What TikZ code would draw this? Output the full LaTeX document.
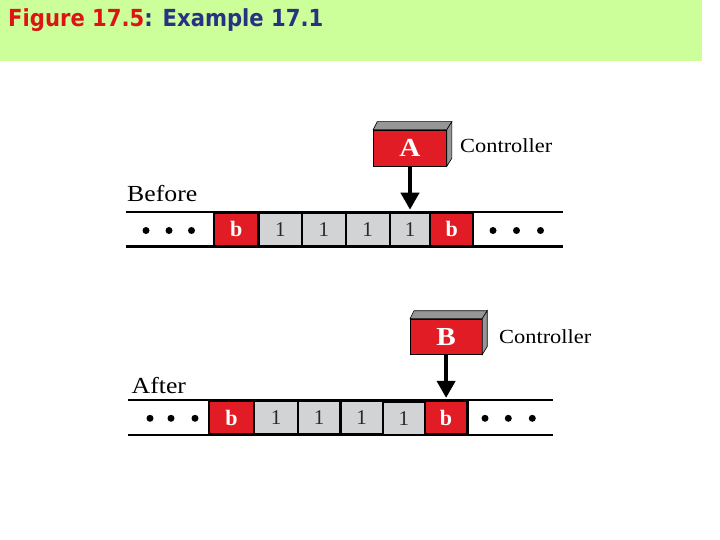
\documentclass[tikz,border=0pt]{standalone}
\usepackage{fontspec}
\setmainfont{Liberation Serif}
\newfontfamily\titlefont{DejaVu Sans}
\usetikzlibrary{arrows.meta,calc}
\definecolor{band}{RGB}{204,255,153}
\definecolor{tred}{RGB}{226,28,36}
\definecolor{tgray}{RGB}{209,211,212}
\definecolor{ttitle}{RGB}{220,20,20}
\definecolor{tblue}{RGB}{40,50,130}
\definecolor{tdark}{RGB}{40,40,40}
\definecolor{facegray}{RGB}{150,150,150}
\tikzset{
  redcell/.style={draw=black,line width=2.2pt,fill=tred,inner sep=0pt,minimum height=33pt,
    font=\fontsize{22}{22}\selectfont\bfseries,text=white},
  graycell/.style={draw=black,line width=2.2pt,fill=tgray,inner sep=0pt,minimum height=33pt,
    font=\fontsize{21}{21}\selectfont,text=tdark},
  tapeline/.style={line width=2.5pt,black},
  tdot/.style={circle,fill=black,inner sep=0pt,minimum size=7pt},
  ctrl/.style={draw=black,line width=0.6pt,fill=tred,inner sep=0pt,
    font=\fontsize{26}{26}\selectfont\bfseries,text=white},
  face/.style={draw=black,line width=0.6pt,fill=facegray},
  lbl/.style={inner sep=0pt,anchor=base west,font=\fontsize{20}{20}\selectfont},
  biglbl/.style={inner sep=0pt,anchor=base west,font=\fontsize{23}{23}\selectfont},
  arr/.style={line width=4pt,-{Triangle[width=18pt,length=17pt]}}
}
\newcommand{\hs}[1]{\scalebox{1.12}[1]{#1}}
\begin{document}
\begin{tikzpicture}[x=1pt,y=-1pt]
\useasboundingbox (0,0) rectangle (720,540);
\fill[band] (0,0) rectangle (702,61);
\node[inner sep=0pt,anchor=base west,font=\titlefont\fontsize{23.5}{23.5}\selectfont\bfseries] (title) at (8,26.5)
  {\scalebox{0.9}[1]{\textcolor{ttitle}{Figure 17.5}\textcolor{tblue}{: Example 17.1}}};

% ---------- Before ----------
\draw[tapeline] (126,212) -- (563,212);
\draw[tapeline] (126,246.5) -- (563,246.5);
\node[biglbl] (before) at (127,202) {\hs{Before}};
\node[tdot] (d1) at (146,230.5) {};
\node[tdot] (d2) at (169,230.5) {};
\node[tdot] (d3) at (191.5,230.5) {};
\node[tdot] (d4) at (493,230.5) {};
\node[tdot] (d5) at (516.5,230.5) {};
\node[tdot] (d6) at (540.5,230.5) {};
\node[redcell,minimum width=44.5pt] (pb1) at (236.25,229.3) {b};
\node[graycell,minimum width=43.5pt] (pc1) at (280.25,229.3) {1};
\node[graycell,minimum width=43.7pt] (pc2) at (323.85,229.3) {1};
\node[graycell,minimum width=44pt] (pc3) at (367.7,229.3) {1};
\node[graycell,minimum width=40.6pt] (pc4) at (410,229.3) {1};
\node[redcell,minimum width=42.7pt] (pb2) at (451.65,229.3) {b};
\node[ctrl,minimum width=73pt,minimum height=36pt] (ca) at (410,148) {\hs{A}};
\draw[face] (ca.north west) -- ++(4,-8) -- ($(ca.north east)+(5,-8)$) -- (ca.north east) -- cycle;
\draw[face] (ca.north east) -- ++(5,-8) -- ($(ca.south east)+(5,-8)$) -- (ca.south east) -- cycle;
\node[lbl] (ctla) at (460,153) {\hs{Controller}};
\draw[arr] (ca.south) -- ($(pc4.north)+(0,-2)$);

% ---------- After ----------
\draw[tapeline] (128,400) -- (553,400);
\draw[tapeline] (128,435) -- (553,435);
\node[biglbl] (after) at (131.5,393) {\hs{After}};
\node[tdot] (e1) at (150,418.3) {};
\node[tdot] (e2) at (171,418.3) {};
\node[tdot] (e3) at (195,418.3) {};
\node[tdot] (e4) at (485,418.3) {};
\node[tdot] (e5) at (508.3,418.3) {};
\node[tdot] (e6) at (532.3,418.3) {};
\node[redcell,minimum width=45.2pt] (qb1) at (231.6,417.5) {b};
\node[graycell,minimum width=43.6pt] (qc1) at (276,417.5) {1};
\node[graycell,minimum width=42.6pt] (qc2) at (319.1,417.5) {1};
\node[graycell,minimum width=42.6pt] (qc3) at (361.7,417.5) {1};
\node[graycell,minimum width=41.7pt] (qc4) at (403.85,418.5) {1};
\node[redcell,minimum width=42.8pt] (qb2) at (446.1,417.5) {b};
\node[ctrl,minimum width=71.6pt,minimum height=35.3pt] (cb) at (446.1,336.7) {\hs{B}};
\draw[face] (cb.north west) -- ++(4,-8) -- ($(cb.north east)+(5,-8)$) -- (cb.north east) -- cycle;
\draw[face] (cb.north east) -- ++(5,-8) -- ($(cb.south east)+(5,-8)$) -- (cb.south east) -- cycle;
\node[lbl] (ctlb) at (499,343) {\hs{Controller}};
\draw[arr] (cb.south) -- ($(qb2.north)+(0,-2)$);
\end{tikzpicture}
\end{document}
